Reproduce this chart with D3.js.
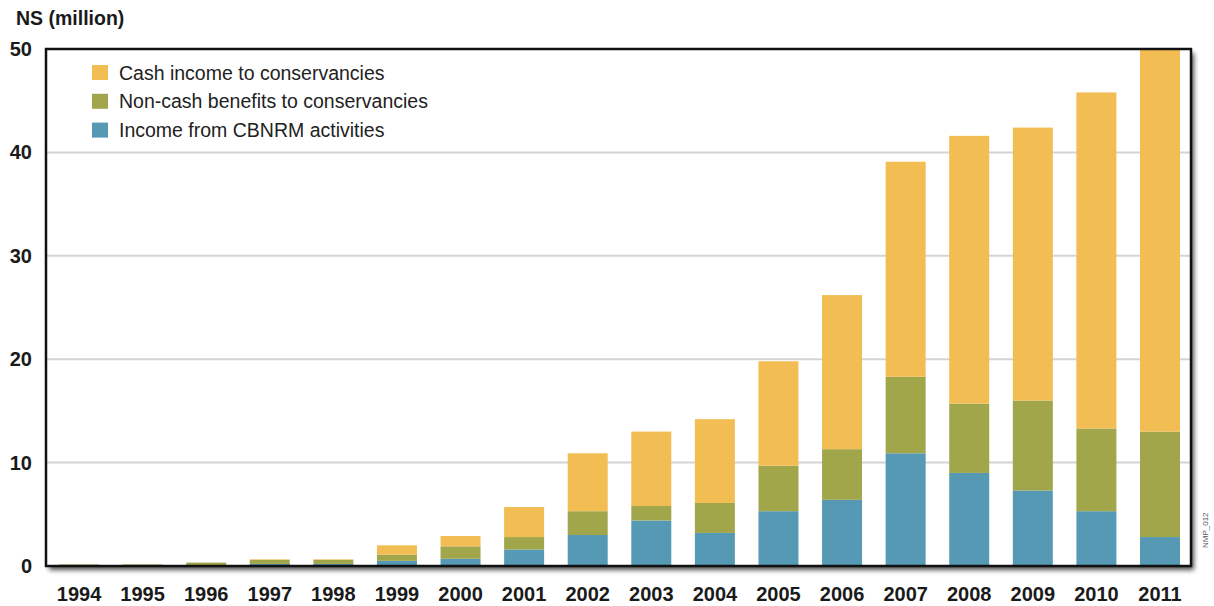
<!DOCTYPE html>
<html>
<head>
<meta charset="utf-8">
<script src="https://cdn.jsdelivr.net/npm/d3@7/dist/d3.min.js"></script>
<style>
  html, body { margin: 0; padding: 0; background: #fff; }
  svg { display: block; font-family: "Liberation Sans", Arial, sans-serif; }
</style>
</head>
<body>
<svg id="chart" width="1214" height="606"></svg>
<script>
// Benefits from conservancies, N$ million
const years = ["1994","1995","1996","1997","1998","1999","2000","2001","2002","2003",
               "2004","2005","2006","2007","2008","2009","2010","2011"];
const cbnrmIncome = [0.0, 0.0, 0.0, 0.2, 0.2, 0.5, 0.7, 1.6, 3.0, 4.4,
                     3.2, 5.3, 6.4, 10.9, 9.0, 7.3, 5.3, 2.8];
const nonCashBenefits = [0.15, 0.15, 0.33, 0.4, 0.4, 0.6, 1.2, 1.2, 2.3, 1.4,
                         2.9, 4.4, 4.9, 7.4, 6.7, 8.7, 8.0, 10.2];
const cashIncome = [0.0, 0.0, 0.0, 0.05, 0.05, 0.9, 1.0, 2.9, 5.6, 7.2,
                    8.1, 10.1, 14.9, 20.8, 25.9, 26.4, 32.5, 37.0];
const yTicks = [0, 10, 20, 30, 40, 50];

const seriesNames = ["Income from CBNRM activities", "Non-cash benefits to conservancies", "Cash income to conservancies"];
const seriesKeys = ["cbnrm", "noncash", "cash"];
const colors = { cbnrm: "#5599b5", noncash: "#a1a64b", cash: "#f2bd52" };

const rows = years.map((y, i) => ({
  year: y, cbnrm: cbnrmIncome[i], noncash: nonCashBenefits[i], cash: cashIncome[i]
}));

const svg = d3.select("#chart");
const m = { left: 46, right: 1191, top: 49, bottom: 566 };

const x = d3.scaleBand().domain(years).range([46.3, 1192.7]).paddingInner(0.371).paddingOuter(0.2);
const y = d3.scaleLinear().domain([0, 50]).range([m.bottom, m.top]);

// drop shadow for the frame
const defs = svg.append("defs");
const f = defs.append("filter").attr("id", "shadow").attr("x", "-5%").attr("y", "-5%").attr("width", "110%").attr("height", "115%");
f.append("feGaussianBlur").attr("in", "SourceAlpha").attr("stdDeviation", 2.5).attr("result", "b");
f.append("feOffset").attr("in", "b").attr("dx", 3).attr("dy", 4).attr("result", "o");
f.append("feComponentTransfer").attr("in", "o").attr("result", "s")
  .append("feFuncA").attr("type", "linear").attr("slope", 0.7);
const fm = f.append("feMerge");
fm.append("feMergeNode").attr("in", "s");
fm.append("feMergeNode").attr("in", "SourceGraphic");

svg.append("rect")
  .attr("x", m.left).attr("y", m.top)
  .attr("width", m.right - m.left).attr("height", m.bottom - m.top)
  .attr("fill", "#fff").attr("filter", "url(#shadow)");

// gridlines
svg.append("g")
  .selectAll("line").data(yTicks.filter(d => d > 0 && d < 50)).join("line")
  .attr("x1", m.left).attr("x2", m.right)
  .attr("y1", d => y(d)).attr("y2", d => y(d))
  .attr("stroke", "#d4d4d4").attr("stroke-width", 2);

// stacked bars
const stack = d3.stack().keys(seriesKeys)(rows);
svg.append("g").selectAll("g").data(stack).join("g")
  .attr("fill", d => colors[d.key])
  .selectAll("rect").data(d => d).join("rect")
  .attr("x", d => x(d.data.year))
  .attr("width", x.bandwidth())
  .attr("y", d => y(d[1]))
  .attr("height", d => Math.max(0, y(d[0]) - y(d[1])));

// frame
svg.append("rect")
  .attr("x", m.left).attr("y", m.top)
  .attr("width", m.right - m.left).attr("height", m.bottom - m.top)
  .attr("fill", "none").attr("stroke", "#111").attr("stroke-width", 2.5);

// y axis labels
const yAxis = d3.axisLeft(y).tickValues(yTicks).tickSize(0).tickPadding(14);
const gy = svg.append("g").attr("transform", `translate(${m.left},0)`).call(yAxis);
gy.select(".domain").remove();
gy.selectAll("text").attr("font-size", 20).attr("font-weight", "bold").attr("fill", "#1a1a1a")
  .attr("font-family", "Liberation Sans, Arial, sans-serif");

// x axis labels
const xAxis = d3.axisBottom(x).tickSize(0).tickPadding(21);
const gx = svg.append("g").attr("transform", `translate(0,${m.bottom})`).call(xAxis);
gx.select(".domain").remove();
gx.selectAll("text").attr("font-size", 20).attr("font-weight", "bold").attr("fill", "#1a1a1a")
  .attr("font-family", "Liberation Sans, Arial, sans-serif");

// unit title
svg.append("text").attr("x", 16).attr("y", 25)
  .attr("font-size", 19.5).attr("font-weight", "bold").attr("fill", "#1a1a1a")
  .text("NS (million)");

// legend (top to bottom: cash, non-cash, CBNRM)
const legendOrder = ["cash", "noncash", "cbnrm"];
const legend = svg.append("g").selectAll("g").data(legendOrder).join("g")
  .attr("transform", (d, i) => `translate(92,${65 + i * 28.8})`);
legend.append("rect").attr("width", 16).attr("height", 15).attr("fill", d => colors[d]);
legend.append("text").attr("x", 27).attr("y", 14.5)
  .attr("font-size", 19.5).attr("fill", "#222")
  .text(d => seriesNames[seriesKeys.indexOf(d)]);

// source code tag
svg.append("text")
  .attr("transform", "translate(1208,548) rotate(-90)")
  .attr("font-size", 8).attr("fill", "#555")
  .text("NMP_012");
</script>
</body>
</html>
